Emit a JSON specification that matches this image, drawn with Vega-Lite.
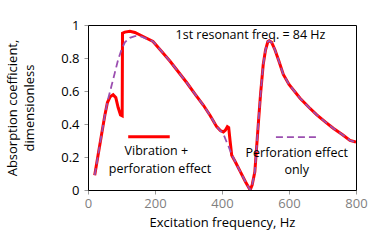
{
  "$schema": "https://vega.github.io/schema/vega-lite/v6.json",
  "width": 268,
  "height": 165,
  "autosize": {"type": "none"},
  "padding": {"left": 88, "top": 25, "right": 22, "bottom": 52},
  "background": "white",
  "config": {
    "font": "Open Sans",
    "view": {"stroke": "#000000", "strokeWidth": 1},
    "axis": {"grid": false, "domainColor": "#000000", "domainWidth": 1, "tickColor": "#999999", "tickSize": 4, "labelFontSize": 13, "titleFontSize": 13, "titleFontWeight": "normal", "titleColor": "#000000", "labelFlush": false, "labelOverlap": false, "labelSeparation": 0}
  },
  "datasets": {
    "lines": [
      {"s": "Vibration + perforation effect", "part": "curve", "i": 1, "f": 20, "a": 0.09},
      {"s": "Vibration + perforation effect", "part": "curve", "i": 2, "f": 30, "a": 0.21},
      {"s": "Vibration + perforation effect", "part": "curve", "i": 3, "f": 40, "a": 0.33},
      {"s": "Vibration + perforation effect", "part": "curve", "i": 4, "f": 50, "a": 0.45},
      {"s": "Vibration + perforation effect", "part": "curve", "i": 5, "f": 58, "a": 0.53},
      {"s": "Vibration + perforation effect", "part": "curve", "i": 6, "f": 66, "a": 0.565},
      {"s": "Vibration + perforation effect", "part": "curve", "i": 7, "f": 75, "a": 0.577},
      {"s": "Vibration + perforation effect", "part": "curve", "i": 8, "f": 83, "a": 0.56},
      {"s": "Vibration + perforation effect", "part": "curve", "i": 9, "f": 90, "a": 0.5},
      {"s": "Vibration + perforation effect", "part": "curve", "i": 10, "f": 97, "a": 0.455},
      {"s": "Vibration + perforation effect", "part": "curve", "i": 11, "f": 102, "a": 0.45},
      {"s": "Vibration + perforation effect", "part": "curve", "i": 12, "f": 103, "a": 0.95},
      {"s": "Vibration + perforation effect", "part": "curve", "i": 13, "f": 110, "a": 0.957},
      {"s": "Vibration + perforation effect", "part": "curve", "i": 14, "f": 125, "a": 0.962},
      {"s": "Vibration + perforation effect", "part": "curve", "i": 15, "f": 140, "a": 0.955},
      {"s": "Vibration + perforation effect", "part": "curve", "i": 16, "f": 160, "a": 0.935},
      {"s": "Vibration + perforation effect", "part": "curve", "i": 17, "f": 194, "a": 0.9},
      {"s": "Vibration + perforation effect", "part": "curve", "i": 18, "f": 220, "a": 0.84},
      {"s": "Vibration + perforation effect", "part": "curve", "i": 19, "f": 245, "a": 0.78},
      {"s": "Vibration + perforation effect", "part": "curve", "i": 20, "f": 270, "a": 0.715},
      {"s": "Vibration + perforation effect", "part": "curve", "i": 21, "f": 295, "a": 0.65},
      {"s": "Vibration + perforation effect", "part": "curve", "i": 22, "f": 320, "a": 0.58},
      {"s": "Vibration + perforation effect", "part": "curve", "i": 23, "f": 344, "a": 0.515},
      {"s": "Vibration + perforation effect", "part": "curve", "i": 24, "f": 365, "a": 0.45},
      {"s": "Vibration + perforation effect", "part": "curve", "i": 25, "f": 384, "a": 0.384},
      {"s": "Vibration + perforation effect", "part": "curve", "i": 26, "f": 395, "a": 0.36},
      {"s": "Vibration + perforation effect", "part": "curve", "i": 27, "f": 404, "a": 0.352},
      {"s": "Vibration + perforation effect", "part": "curve", "i": 28, "f": 410, "a": 0.362},
      {"s": "Vibration + perforation effect", "part": "curve", "i": 29, "f": 416, "a": 0.384},
      {"s": "Vibration + perforation effect", "part": "curve", "i": 30, "f": 420, "a": 0.378},
      {"s": "Vibration + perforation effect", "part": "curve", "i": 31, "f": 424, "a": 0.3},
      {"s": "Vibration + perforation effect", "part": "curve", "i": 32, "f": 429, "a": 0.21},
      {"s": "Vibration + perforation effect", "part": "curve", "i": 33, "f": 440, "a": 0.17},
      {"s": "Vibration + perforation effect", "part": "curve", "i": 34, "f": 455, "a": 0.11},
      {"s": "Vibration + perforation effect", "part": "curve", "i": 35, "f": 470, "a": 0.05},
      {"s": "Vibration + perforation effect", "part": "curve", "i": 36, "f": 484, "a": 0.0},
      {"s": "Vibration + perforation effect", "part": "curve", "i": 37, "f": 490, "a": 0.03},
      {"s": "Vibration + perforation effect", "part": "curve", "i": 38, "f": 498, "a": 0.11},
      {"s": "Vibration + perforation effect", "part": "curve", "i": 39, "f": 508, "a": 0.39},
      {"s": "Vibration + perforation effect", "part": "curve", "i": 40, "f": 515, "a": 0.58},
      {"s": "Vibration + perforation effect", "part": "curve", "i": 41, "f": 523, "a": 0.76},
      {"s": "Vibration + perforation effect", "part": "curve", "i": 42, "f": 530, "a": 0.85},
      {"s": "Vibration + perforation effect", "part": "curve", "i": 43, "f": 537, "a": 0.9},
      {"s": "Vibration + perforation effect", "part": "curve", "i": 44, "f": 541, "a": 0.905},
      {"s": "Vibration + perforation effect", "part": "curve", "i": 45, "f": 548, "a": 0.895},
      {"s": "Vibration + perforation effect", "part": "curve", "i": 46, "f": 558, "a": 0.85},
      {"s": "Vibration + perforation effect", "part": "curve", "i": 47, "f": 570, "a": 0.78},
      {"s": "Vibration + perforation effect", "part": "curve", "i": 48, "f": 583, "a": 0.7},
      {"s": "Vibration + perforation effect", "part": "curve", "i": 49, "f": 600, "a": 0.64},
      {"s": "Vibration + perforation effect", "part": "curve", "i": 50, "f": 633, "a": 0.556},
      {"s": "Vibration + perforation effect", "part": "curve", "i": 51, "f": 660, "a": 0.5},
      {"s": "Vibration + perforation effect", "part": "curve", "i": 52, "f": 683, "a": 0.455},
      {"s": "Vibration + perforation effect", "part": "curve", "i": 53, "f": 710, "a": 0.41},
      {"s": "Vibration + perforation effect", "part": "curve", "i": 54, "f": 732, "a": 0.374},
      {"s": "Vibration + perforation effect", "part": "curve", "i": 55, "f": 760, "a": 0.335},
      {"s": "Vibration + perforation effect", "part": "curve", "i": 56, "f": 782, "a": 0.3},
      {"s": "Vibration + perforation effect", "part": "curve", "i": 57, "f": 800, "a": 0.29},
      {"s": "Vibration + perforation effect", "part": "key", "i": 1, "f": 120, "a": 0.323},
      {"s": "Vibration + perforation effect", "part": "key", "i": 2, "f": 244, "a": 0.323},
      {"s": "Perforation effect only", "part": "curve", "i": 1, "f": 20, "a": 0.09},
      {"s": "Perforation effect only", "part": "curve", "i": 2, "f": 30, "a": 0.21},
      {"s": "Perforation effect only", "part": "curve", "i": 3, "f": 40, "a": 0.33},
      {"s": "Perforation effect only", "part": "curve", "i": 4, "f": 50, "a": 0.45},
      {"s": "Perforation effect only", "part": "curve", "i": 5, "f": 58, "a": 0.535},
      {"s": "Perforation effect only", "part": "curve", "i": 6, "f": 70, "a": 0.63},
      {"s": "Perforation effect only", "part": "curve", "i": 7, "f": 80, "a": 0.71},
      {"s": "Perforation effect only", "part": "curve", "i": 8, "f": 90, "a": 0.79},
      {"s": "Perforation effect only", "part": "curve", "i": 9, "f": 100, "a": 0.85},
      {"s": "Perforation effect only", "part": "curve", "i": 10, "f": 110, "a": 0.895},
      {"s": "Perforation effect only", "part": "curve", "i": 11, "f": 125, "a": 0.922},
      {"s": "Perforation effect only", "part": "curve", "i": 12, "f": 140, "a": 0.933},
      {"s": "Perforation effect only", "part": "curve", "i": 13, "f": 160, "a": 0.93},
      {"s": "Perforation effect only", "part": "curve", "i": 14, "f": 194, "a": 0.9},
      {"s": "Perforation effect only", "part": "curve", "i": 15, "f": 220, "a": 0.84},
      {"s": "Perforation effect only", "part": "curve", "i": 16, "f": 245, "a": 0.78},
      {"s": "Perforation effect only", "part": "curve", "i": 17, "f": 270, "a": 0.715},
      {"s": "Perforation effect only", "part": "curve", "i": 18, "f": 295, "a": 0.65},
      {"s": "Perforation effect only", "part": "curve", "i": 19, "f": 320, "a": 0.58},
      {"s": "Perforation effect only", "part": "curve", "i": 20, "f": 344, "a": 0.515},
      {"s": "Perforation effect only", "part": "curve", "i": 21, "f": 365, "a": 0.45},
      {"s": "Perforation effect only", "part": "curve", "i": 22, "f": 384, "a": 0.384},
      {"s": "Perforation effect only", "part": "curve", "i": 23, "f": 395, "a": 0.36},
      {"s": "Perforation effect only", "part": "curve", "i": 24, "f": 404, "a": 0.34},
      {"s": "Perforation effect only", "part": "curve", "i": 25, "f": 412, "a": 0.3},
      {"s": "Perforation effect only", "part": "curve", "i": 26, "f": 420, "a": 0.262},
      {"s": "Perforation effect only", "part": "curve", "i": 27, "f": 429, "a": 0.215},
      {"s": "Perforation effect only", "part": "curve", "i": 28, "f": 440, "a": 0.17},
      {"s": "Perforation effect only", "part": "curve", "i": 29, "f": 455, "a": 0.11},
      {"s": "Perforation effect only", "part": "curve", "i": 30, "f": 470, "a": 0.05},
      {"s": "Perforation effect only", "part": "curve", "i": 31, "f": 484, "a": 0.0},
      {"s": "Perforation effect only", "part": "curve", "i": 32, "f": 490, "a": 0.03},
      {"s": "Perforation effect only", "part": "curve", "i": 33, "f": 498, "a": 0.11},
      {"s": "Perforation effect only", "part": "curve", "i": 34, "f": 508, "a": 0.39},
      {"s": "Perforation effect only", "part": "curve", "i": 35, "f": 515, "a": 0.58},
      {"s": "Perforation effect only", "part": "curve", "i": 36, "f": 523, "a": 0.76},
      {"s": "Perforation effect only", "part": "curve", "i": 37, "f": 530, "a": 0.85},
      {"s": "Perforation effect only", "part": "curve", "i": 38, "f": 537, "a": 0.9},
      {"s": "Perforation effect only", "part": "curve", "i": 39, "f": 541, "a": 0.905},
      {"s": "Perforation effect only", "part": "curve", "i": 40, "f": 548, "a": 0.895},
      {"s": "Perforation effect only", "part": "curve", "i": 41, "f": 558, "a": 0.85},
      {"s": "Perforation effect only", "part": "curve", "i": 42, "f": 570, "a": 0.78},
      {"s": "Perforation effect only", "part": "curve", "i": 43, "f": 583, "a": 0.7},
      {"s": "Perforation effect only", "part": "curve", "i": 44, "f": 600, "a": 0.64},
      {"s": "Perforation effect only", "part": "curve", "i": 45, "f": 633, "a": 0.556},
      {"s": "Perforation effect only", "part": "curve", "i": 46, "f": 660, "a": 0.5},
      {"s": "Perforation effect only", "part": "curve", "i": 47, "f": 683, "a": 0.455},
      {"s": "Perforation effect only", "part": "curve", "i": 48, "f": 710, "a": 0.41},
      {"s": "Perforation effect only", "part": "curve", "i": 49, "f": 732, "a": 0.374},
      {"s": "Perforation effect only", "part": "curve", "i": 50, "f": 760, "a": 0.335},
      {"s": "Perforation effect only", "part": "curve", "i": 51, "f": 782, "a": 0.3},
      {"s": "Perforation effect only", "part": "curve", "i": 52, "f": 800, "a": 0.29},
      {"s": "Perforation effect only", "part": "key", "i": 1, "f": 561, "a": 0.32},
      {"s": "Perforation effect only", "part": "key", "i": 2, "f": 687, "a": 0.32}
    ],
    "notes": [
      {"t": "1st resonant freq. = 84 Hz", "f": 485, "a": 0.94},
      {"t": "Vibration +", "f": 204, "a": 0.235},
      {"t": "perforation effect", "f": 215, "a": 0.13},
      {"t": "Perforation effect", "f": 623, "a": 0.224},
      {"t": "only", "f": 623, "a": 0.12}
    ]
  },
  "encoding": {
    "x": {"field": "f", "type": "quantitative", "scale": {"domain": [0, 800], "nice": false},
          "axis": {"values": [0, 200, 400, 600, 800], "title": "Excitation frequency, Hz", "labelColor": "#7f7f7f", "labelPadding": 3, "titlePadding": 6}},
    "y": {"field": "a", "type": "quantitative", "scale": {"domain": [0, 1], "nice": false},
          "axis": {"values": [0, 0.2, 0.4, 0.6, 0.8, 1], "format": "~g", "title": ["Absorption coefficient,", "dimensionless"], "labelColor": "#000000", "labelPadding": 5, "titlePadding": 24, "titleLineHeight": 17}}
  },
  "layer": [
    {
      "data": {"name": "lines"},
      "transform": [{"filter": "datum.s === 'Vibration + perforation effect'"}],
      "mark": {"type": "line", "color": "#FF0000", "strokeWidth": 3, "clip": true},
      "encoding": {
        "detail": {"field": "part"},
        "order": {"field": "i", "type": "quantitative"}
      }
    },
    {
      "data": {"name": "lines"},
      "transform": [{"filter": "datum.s === 'Perforation effect only'"}],
      "mark": {"type": "line", "color": "#9B4FB0", "strokeWidth": 1.8, "strokeDash": [7, 4], "clip": true},
      "encoding": {
        "detail": {"field": "part"},
        "order": {"field": "i", "type": "quantitative"}
      }
    },
    {
      "data": {"name": "notes"},
      "mark": {"type": "text", "fontSize": 12.5, "color": "#000000", "align": "center", "baseline": "middle"},
      "encoding": {
        "text": {"field": "t"}
      }
    }
  ]
}
